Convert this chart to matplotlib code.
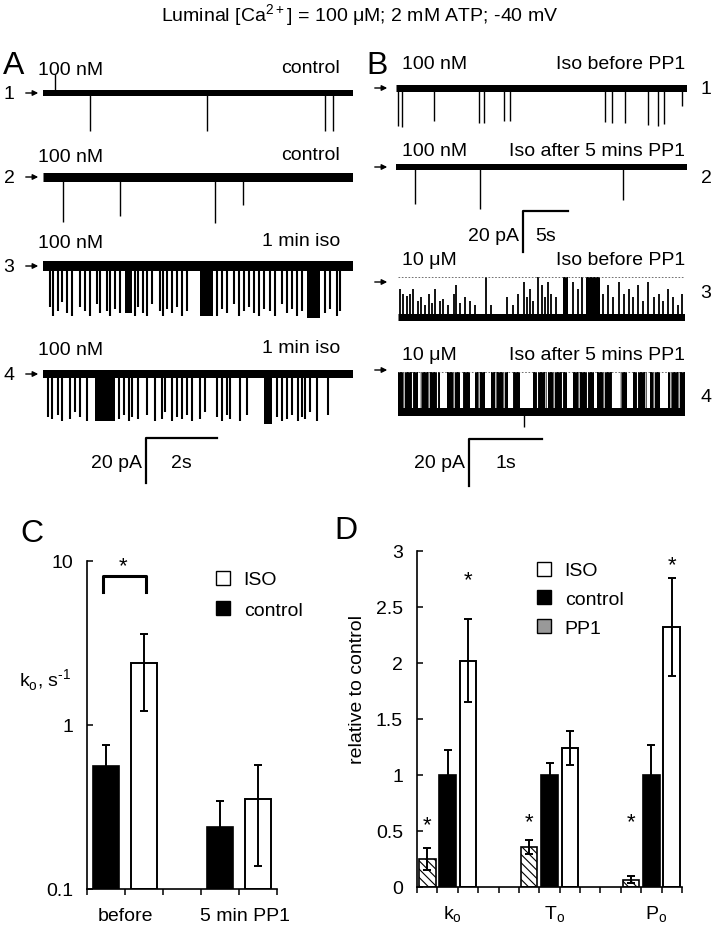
import matplotlib
matplotlib.use('Agg')
import matplotlib.pyplot as plt
from matplotlib.patches import Patch

plt.rcParams['font.family'] = ['Liberation Sans', 'DejaVu Sans']
plt.rcParams['mathtext.fontset'] = 'custom'
plt.rcParams['mathtext.rm'] = 'Liberation Sans'
plt.rcParams['hatch.linewidth'] = 0.8
FS = 14

# ---- single channel traces (times in s, amplitudes in pA) ----
a1_t = [0.34, 1.32, 4.61, 7.92, 8.15]
a1_a = [8.4, -17, -17, -17, -17]

a2_t = [0.56, 2.16, 4.83, 5.62]
a2_a = [-20, -17.3, -20.4, -12.4]

a3_t = [0.20, 0.29, 0.43, 0.52, 0.66, 0.81, 1.04, 1.18, 1.32, 1.51, 1.60, 1.79, 1.88,
        2.02, 2.16, 2.58, 2.68, 2.82, 2.91, 3.05, 3.29, 3.38, 3.47, 3.61, 3.75, 3.90,
        4.04, 4.88, 5.02, 5.16, 5.35, 5.49, 5.63, 5.77, 5.91, 6.05, 6.19, 6.38, 6.52,
        6.70, 6.84, 6.99, 7.13, 7.27, 7.92, 8.06, 8.25, 8.34]
a3_a = [-18, -22, -20, -16, -21, -22, -18, -20, -22, -17, -21, -20, -22,
        -19, -21, -22, -18, -21, -22, -17, -20, -22, -19, -21, -18, -22,
        -20, -22, -19, -21, -17, -22, -20, -18, -21, -22, -19, -20, -22,
        -17, -21, -19, -22, -20, -21, -19, -22, -20]
a3_bursts = [(2.30, 2.49, -21), (4.41, 4.78, -22), (7.41, 7.78, -23)]

a4_t = [0.15, 0.24, 0.43, 0.52, 0.76, 0.90, 1.04, 1.23, 2.12, 2.26, 2.40, 2.49, 2.68,
        2.91, 3.15, 3.33, 3.43, 3.61, 3.75, 3.90, 4.04, 4.18, 4.41, 4.55, 4.88, 5.02,
        5.16, 5.25, 5.53, 5.72, 6.56, 6.70, 6.84, 6.99, 7.17, 7.27, 7.36, 7.50, 7.69, 8.01]
a4_a = [-19, -20, -18, -21, -20, -17, -19, -21, -20, -18, -21, -19, -20,
        -18, -21, -20, -17, -21, -19, -20, -18, -21, -20, -17, -19, -21,
        -18, -20, -21, -18, -19, -21, -20, -18, -21, -19, -20, -17, -21, -18]
a4_bursts = [(1.46, 2.02, -21), (6.19, 6.42, -22)]

b1_t = [0.22, 0.67, 4.2, 9.2, 9.8, 12.0, 12.6, 23.2, 24.0, 25.4, 28.0, 29.1, 29.7, 31.8]
b1_a = [-18.5, -19, -16, -17, -17, -16, -16, -16.5, -17, -17, -18, -18.5, -17.5, -9]

b2_t = [2.1, 9.3, 25.2]
b2_a = [-18, -20.5, -16]

b3_t = [0.03, 0.07, 0.12, 0.16, 0.21, 0.28, 0.32, 0.37, 0.42, 0.46, 0.51, 0.58, 0.62,
        0.69, 0.76, 0.80, 0.85, 0.92, 0.99, 1.05, 1.21, 1.28, 1.49, 1.58, 1.65, 1.72,
        1.76, 1.81, 1.85, 1.92, 1.97, 2.01, 2.06, 2.10, 2.17, 2.40, 2.47, 2.52, 2.81,
        2.88, 2.95, 3.02, 3.09, 3.16, 3.22, 3.29, 3.36, 3.43, 3.50, 3.57, 3.63, 3.70,
        3.77, 3.84, 3.89]
b3_a = [12, 10, 9, 10, 12, 7, 8.5, 5, 10, 6, 12, 7, 7.5,
        5, 10, 13.5, 6, 8.5, 7, 5, 17, 5, 8.5, 5, 10, 15,
        8.5, 12, 7, 17, 13.5, 8.5, 15, 10, 8.5, 15, 12, 17, 10,
        13.5, 8.5, 15, 10, 12, 8.5, 13.5, 7, 15, 8.5, 10, 7, 12,
        8.5, 5, 10]
b3_bursts = [(2.26, 2.33, 17), (2.58, 2.77, 17)]

b4_t = [1.72]
b4_a = [-6.4]
b4_bursts = [(0.00, 0.28, 17), (0.30, 0.58, 17), (0.67, 0.85, 17), (0.89, 0.99, 17),
             (1.05, 1.19, 17), (1.28, 1.51, 17), (1.58, 1.67, 17), (1.85, 2.04, 17),
             (2.06, 2.31, 17), (2.40, 2.68, 17), (2.72, 2.95, 17), (3.04, 3.13, 17),
             (3.22, 3.41, 17), (3.45, 3.59, 17), (3.70, 3.93, 17)]

# ---- bar charts ----
c_groups = ['before', '5 min PP1']
c_control = [0.56, 0.24]
c_control_err = [0.19, 0.105]
c_iso = [2.39, 0.354]
c_iso_err = [1.18, 0.216]

d_groups = ['k$_\\mathregular{o}$', 'T$_\\mathregular{o}$', 'P$_\\mathregular{o}$']
d_pp1 = [0.252, 0.356, 0.065]
d_pp1_err = [0.10, 0.065, 0.03]
d_control = [1.0, 1.0, 1.0]
d_control_err = [0.22, 0.11, 0.27]
d_iso = [2.02, 1.24, 2.32]
d_iso_err = [0.37, 0.155, 0.44]

W, H = 716, 929
fig = plt.figure(figsize=(W / 100, H / 100), dpi=100)
ov = fig.add_axes([0, 0, 1, 1])
ov.set_xlim(0, W)
ov.set_ylim(H, 0)
ov.axis('off')


def px_axes(x0, y0, x1, y1):
    return fig.add_axes([x0 / W, 1 - y1 / H, (x1 - x0) / W, (y1 - y0) / H])


def trace(x0, x1, base, T, ppa, lw_px, ev_t, ev_a, bursts=(), dash=None, hatched=False,
          ev_lw=1.0):
    ax = px_axes(x0, base - 60, x1, base + 60)
    ax.set_xlim(0, T)
    ax.set_ylim(-60 / ppa, 60 / ppa)
    ax.axis('off')
    ax.plot([0, T], [0, 0], color='k', lw=lw_px * 0.72, solid_capstyle='butt')
    ax.vlines(ev_t, 0, ev_a, color='k', lw=ev_lw)
    for t0, t1, amp in bursts:
        if hatched:
            ax.fill_between([t0, t1], 0, amp, facecolor='k', edgecolor='white',
                            hatch='||', lw=0)
        else:
            ax.fill_between([t0, t1], 0, amp, color='k', lw=0)
    if dash is not None:
        ax.plot([0, T], [dash, dash], color='0.35', lw=0.6, dashes=(2, 2))
    return ax


def scalebar(x0, ytop, ppa, pps, amp, dur, lbl_t):
    ax = px_axes(x0, ytop, x0 + dur * pps, ytop + amp * ppa)
    ax.set_xlim(0, dur)
    ax.set_ylim(-amp, 0)
    ax.axis('off')
    ax.plot([0, 0, dur], [-amp, 0, 0], color='k', lw=1.6, clip_on=False)
    yc = ytop + 24
    ov.text(x0 - 4, yc, '%d pA' % amp, ha='right', va='center', fontsize=FS)
    ov.text(x0 + dur * pps * 0.5, yc, lbl_t, ha='center', va='center', fontsize=FS)


def arrow(x, y, num=None, numx=None):
    ov.annotate('', xy=(x + 18, y), xytext=(x, y),
                arrowprops=dict(arrowstyle='-|>', color='k', lw=1.0, mutation_scale=8))
    if num is not None:
        ov.text(numx, y, num, ha='center', va='center', fontsize=FS)


# title
ov.text(W / 2 + 2, 16, 'Luminal [Ca$^\\mathregular{2+}$] = 100 μM; 2 mM ATP; -40 mV',
        ha='center', va='center', fontsize=FS)

# panel A
A_PPA, A_PPS = 2.25, 35.6
trace(43, 353, 94, 8.7, A_PPA, 6, a1_t, a1_a)
trace(43, 353, 178, 8.7, A_PPA, 9, a2_t, a2_a)
trace(43, 353, 267, 8.7, A_PPA, 10, a3_t, a3_a, a3_bursts, ev_lw=1.5)
trace(43, 353, 375, 8.7, A_PPA, 8, a4_t, a4_a, a4_bursts, ev_lw=1.5)
for y, n in [(94, '1'), (178, '2'), (267, '3'), (375, '4')]:
    arrow(23, y, n, 9)
for y, lbl in [(70, 'control'), (157, 'control'), (243, '1 min iso'), (350, '1 min iso')]:
    ov.text(38, y, '100 nM', ha='left', va='center', fontsize=FS)
    ov.text(340, y - 2, lbl, ha='right', va='center', fontsize=FS)
scalebar(146, 439, A_PPA, A_PPS, 20, 2, '2s')
ov.text(3, 66, 'A', ha='left', va='center', fontsize=23)

# panel B
trace(396, 687, 89, 32.3, 2.05, 7, b1_t, b1_a)
trace(396, 687, 168, 32.3, 2.05, 6, b2_t, b2_a)
trace(398, 685, 318, 3.93, 2.35, 7, b3_t, b3_a, b3_bursts, dash=17, ev_lw=1.3)
trace(398, 685, 413, 3.93, 2.35, 8, b4_t, b4_a, b4_bursts, dash=17, hatched=True)
for y in [89, 168, 283, 371]:
    arrow(372, y)
for y, n in [(89, '1'), (178, '2'), (293, '3'), (397, '4')]:
    ov.text(706, y, n, ha='center', va='center', fontsize=FS)
for y, conc, lbl in [(64, '100 nM', 'Iso before PP1'), (151, '100 nM', 'Iso after 5 mins PP1'),
                     (260, '10 μM', 'Iso before PP1'), (355, '10 μM', 'Iso after 5 mins PP1')]:
    ov.text(402, y, conc, ha='left', va='center', fontsize=FS)
    ov.text(685, y, lbl, ha='right', va='center', fontsize=FS)
scalebar(523, 212, 2.05, 9.0, 20, 5, '5s')
scalebar(469, 440, 2.35, 73, 20, 1, '1s')
ov.text(366, 66, 'B', ha='left', va='center', fontsize=23)

# panel C
axc = px_axes(87, 562, 277, 890)
axc.set_facecolor('none')
axc.set_yscale('log')
xc = [0.5, 3.5]
xi = [1.5, 4.5]
base_c = 0.1
axc.bar(xc, [v - base_c for v in c_control], width=0.68, bottom=base_c, color='k',
        edgecolor='k', lw=1.2)
axc.bar(xi, [v - base_c for v in c_iso], width=0.7, bottom=base_c, color='white',
        edgecolor='k', lw=1.4)
axc.errorbar(xc, c_control, yerr=c_control_err, fmt='none', ecolor='k', elinewidth=1.4,
             capsize=3, capthick=1.4)
axc.errorbar(xi, c_iso, yerr=c_iso_err, fmt='none', ecolor='k', elinewidth=1.4,
             capsize=3, capthick=1.4)
axc.set_xlim(0, 5)
axc.set_ylim(0.1, 10)
axc.set_yticks([0.1, 1, 10])
axc.set_yticklabels(['0.1', '1', '10'], fontsize=FS)
axc.minorticks_off()
axc.set_xticks(range(6))
axc.set_xticklabels([])
axc.tick_params(axis='y', direction='in', length=4, width=1.1, pad=10)
axc.tick_params(axis='x', direction='out', length=4, width=1.1)
for s in ['top', 'right']:
    axc.spines[s].set_visible(False)
for s in ['left', 'bottom']:
    axc.spines[s].set_linewidth(1.2)
for x, g in zip([1.0, 4.15], c_groups):
    axc.text(x, -0.08, g, transform=axc.get_xaxis_transform(), ha='center', va='center',
             fontsize=FS)
axc.plot([0.42, 0.42, 1.55, 1.55], [6.5, 8.1, 8.1, 6.5], color='k', lw=2.2, clip_on=False)
axc.text(0.95, 9.3, '*', ha='center', va='center', fontsize=16)
axc.legend([Patch(facecolor='white', edgecolor='k'), Patch(facecolor='k', edgecolor='k')],
           ['ISO', 'control'], loc='upper left', bbox_to_anchor=(198 / W, 1 - 554 / H),
           bbox_transform=fig.transFigure, frameon=False, fontsize=FS,
           handlelength=0.75, handleheight=0.75, handletextpad=0.7, labelspacing=0.65)
ov.text(19, 680, 'k$_\\mathregular{o}$, s$^\\mathregular{\u20101}$', ha='left', va='center',
        fontsize=FS)
ov.text(20, 534, 'C', ha='left', va='center', fontsize=23)

# panel D
axd = px_axes(417, 552, 682, 888)
axd.set_facecolor('none')
n = len(d_groups)
xp = [0.5 + 5 * i for i in range(n)]
xk = [1.5 + 5 * i for i in range(n)]
xs = [2.5 + 5 * i for i in range(n)]
axd.bar(xp, d_pp1, width=0.82, color='white', edgecolor='k', lw=1.2, hatch='\\\\\\\\')
axd.bar(xk, d_control, width=0.82, color='k', edgecolor='k', lw=1.2)
axd.bar(xs, d_iso, width=0.82, color='white', edgecolor='k', lw=1.4)
for xx, v, e in [(xp, d_pp1, d_pp1_err), (xk, d_control, d_control_err), (xs, d_iso, d_iso_err)]:
    axd.errorbar(xx, v, yerr=e, fmt='none', ecolor='k', elinewidth=1.4, capsize=3,
                 capthick=1.4)
axd.set_xlim(0, 13)
axd.set_ylim(0, 3)
axd.set_yticks([0, 0.5, 1, 1.5, 2, 2.5, 3])
axd.set_yticklabels(['0', '0.5', '1', '1.5', '2', '2.5', '3'], fontsize=FS)
axd.set_xticks(range(14))
axd.set_xticklabels([])
axd.tick_params(axis='y', direction='in', length=4, width=1.1, pad=10)
axd.tick_params(axis='x', direction='out', length=4, width=1.1)
for s in ['top', 'right']:
    axd.spines[s].set_visible(False)
for s in ['left', 'bottom']:
    axd.spines[s].set_linewidth(1.2)
for i, g in enumerate(d_groups):
    axd.text(1.75 + 5 * i, -0.08, g, transform=axd.get_xaxis_transform(), ha='center',
             va='center', fontsize=FS)
for x, y in [(0.5, 0.56), (2.5, 2.74), (5.5, 0.58), (10.5, 0.58), (12.5, 2.88)]:
    axd.text(x, y, '*', ha='center', va='center', fontsize=16)
axd.legend([Patch(facecolor='white', edgecolor='k'), Patch(facecolor='k', edgecolor='k'),
            Patch(facecolor='0.6', edgecolor='k')],
           ['ISO', 'control', 'PP1'], loc='upper left', bbox_to_anchor=(519 / W, 1 - 545 / H),
           bbox_transform=fig.transFigure, frameon=False, fontsize=FS,
           handlelength=0.75, handleheight=0.75, handletextpad=0.7, labelspacing=0.55)
ov.text(358, 690, 'relative to control', rotation=90, ha='center', va='center', fontsize=FS)
ov.text(334, 531, 'D', ha='left', va='center', fontsize=23)

fig.savefig('out.png', dpi=100)
